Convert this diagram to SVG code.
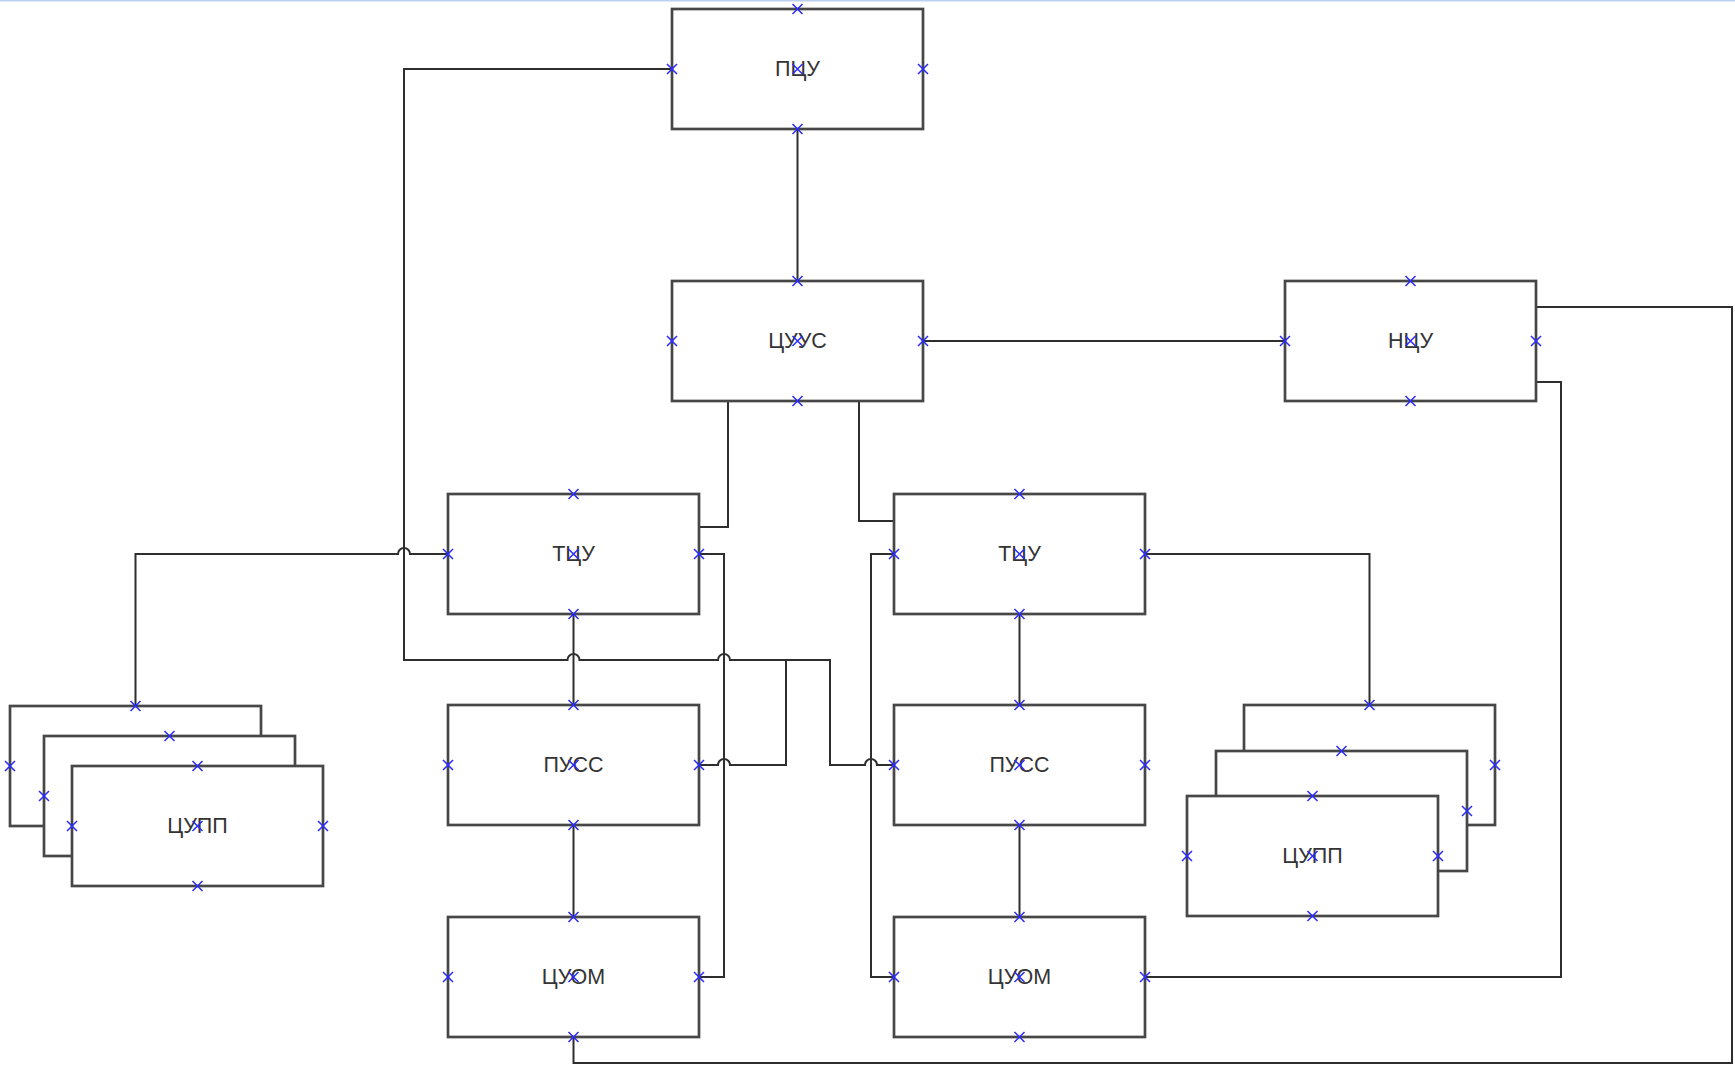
<svg xmlns="http://www.w3.org/2000/svg" width="1735" height="1066" viewBox="0 0 1735 1066">
<defs>
<style>
.box{fill:#fff;stroke:#474747;stroke-width:2.7}
.lbl{font-family:"Liberation Sans",Arial,sans-serif;font-size:21.5px;fill:#333;text-anchor:middle}
.con{fill:none;stroke:#2e2e2e;stroke-width:2}
.pt{stroke:#2a2aff;stroke-width:1.5;fill:none}
</style>
<path id="x" d="M-5,-5 L5,5 M-5,5 L5,-5"/>
</defs>
<rect x="0" y="0" width="1735" height="1066" fill="#fff"/>
<line x1="0" y1="0.5" x2="1735" y2="0.5" stroke="#bcd0f2" stroke-width="2"/>

<g id="connectors" class="con">
<path d="M797.5,129 V281"/>
<path d="M923,341 H1285"/>
<path d="M728,401 V527 H699"/>
<path d="M859,401 V521 H894"/>
<path d="M672,69 H404 V660 H567.5 a6,6 0 0 1 12,0 H718 a6,6 0 0 1 12,0 H830 V765 H865 a6,6 0 0 1 12,0 H894"/>
<path d="M699,765 H718 a6,6 0 0 1 12,0 H786 V660"/>
<path d="M448,554 H410 a6,6 0 0 0 -12,0 H135.5 V706"/>
<path d="M573.5,614 V705"/>
<path d="M573.5,825 V917"/>
<path d="M699,554 H724 V977 H699"/>
<path d="M894,554 H871 V977 H894"/>
<path d="M1019.5,614 V705"/>
<path d="M1019.5,825 V917"/>
<path d="M1145,554 H1369.5 V705"/>
<path d="M1536,307 H1732 V1063 H573.5 V1037"/>
<path d="M1536,382 H1561 V977 H1145"/>
</g>

<g id="n-pcu">
<rect class="box" x="672" y="9" width="251" height="120"/>
<text class="lbl" x="797.5" y="76">ПЦУ</text>
<g class="pt"><use href="#x" x="797.5" y="9"/><use href="#x" x="797.5" y="129"/><use href="#x" x="672" y="69"/><use href="#x" x="923" y="69"/><use href="#x" x="797.5" y="69"/></g>
</g>

<g id="n-cuus">
<rect class="box" x="672" y="281" width="251" height="120"/>
<text class="lbl" x="797.5" y="348">ЦУУС</text>
<g class="pt"><use href="#x" x="797.5" y="281"/><use href="#x" x="797.5" y="401"/><use href="#x" x="672" y="341"/><use href="#x" x="923" y="341"/><use href="#x" x="797.5" y="341"/></g>
</g>

<g id="n-ncu">
<rect class="box" x="1285" y="281" width="251" height="120"/>
<text class="lbl" x="1410.5" y="348">НЦУ</text>
<g class="pt"><use href="#x" x="1410.5" y="281"/><use href="#x" x="1410.5" y="401"/><use href="#x" x="1285" y="341"/><use href="#x" x="1536" y="341"/><use href="#x" x="1410.5" y="341"/></g>
</g>

<g id="n-tcu-l">
<rect class="box" x="448" y="494" width="251" height="120"/>
<text class="lbl" x="573.5" y="561">ТЦУ</text>
<g class="pt"><use href="#x" x="573.5" y="494"/><use href="#x" x="573.5" y="614"/><use href="#x" x="448" y="554"/><use href="#x" x="699" y="554"/><use href="#x" x="573.5" y="554"/></g>
</g>

<g id="n-tcu-r">
<rect class="box" x="894" y="494" width="251" height="120"/>
<text class="lbl" x="1019.5" y="561">ТЦУ</text>
<g class="pt"><use href="#x" x="1019.5" y="494"/><use href="#x" x="1019.5" y="614"/><use href="#x" x="894" y="554"/><use href="#x" x="1145" y="554"/><use href="#x" x="1019.5" y="554"/></g>
</g>

<g id="n-puss-l">
<rect class="box" x="448" y="705" width="251" height="120"/>
<text class="lbl" x="573.5" y="772">ПУСС</text>
<g class="pt"><use href="#x" x="573.5" y="705"/><use href="#x" x="573.5" y="825"/><use href="#x" x="448" y="765"/><use href="#x" x="699" y="765"/><use href="#x" x="573.5" y="765"/></g>
</g>

<g id="n-puss-r">
<rect class="box" x="894" y="705" width="251" height="120"/>
<text class="lbl" x="1019.5" y="772">ПУСС</text>
<g class="pt"><use href="#x" x="1019.5" y="705"/><use href="#x" x="1019.5" y="825"/><use href="#x" x="894" y="765"/><use href="#x" x="1145" y="765"/><use href="#x" x="1019.5" y="765"/></g>
</g>

<g id="n-cuom-l">
<rect class="box" x="448" y="917" width="251" height="120"/>
<text class="lbl" x="573.5" y="984">ЦУОМ</text>
<g class="pt"><use href="#x" x="573.5" y="917"/><use href="#x" x="573.5" y="1037"/><use href="#x" x="448" y="977"/><use href="#x" x="699" y="977"/><use href="#x" x="573.5" y="977"/></g>
</g>

<g id="n-cuom-r">
<rect class="box" x="894" y="917" width="251" height="120"/>
<text class="lbl" x="1019.5" y="984">ЦУОМ</text>
<g class="pt"><use href="#x" x="1019.5" y="917"/><use href="#x" x="1019.5" y="1037"/><use href="#x" x="894" y="977"/><use href="#x" x="1145" y="977"/><use href="#x" x="1019.5" y="977"/></g>
</g>

<g id="n-cupp-l">
<g id="n-cupp-l-back">
<rect class="box" x="10" y="706" width="251" height="120"/>
<g class="pt"><use href="#x" x="135.5" y="706"/><use href="#x" x="10" y="766"/></g>
</g>
<g id="n-cupp-l-mid">
<rect class="box" x="44" y="736" width="251" height="120"/>
<g class="pt"><use href="#x" x="169.5" y="736"/><use href="#x" x="44" y="796"/></g>
</g>
<g id="n-cupp-l-front">
<rect class="box" x="72" y="766" width="251" height="120"/>
<text class="lbl" x="197.5" y="833">ЦУПП</text>
<g class="pt"><use href="#x" x="197.5" y="766"/><use href="#x" x="197.5" y="886"/><use href="#x" x="72" y="826"/><use href="#x" x="323" y="826"/><use href="#x" x="197.5" y="826"/></g>
</g>
</g>

<g id="n-cupp-r">
<g id="n-cupp-r-back">
<rect class="box" x="1244" y="705" width="251" height="120"/>
<g class="pt"><use href="#x" x="1369.5" y="705"/><use href="#x" x="1495" y="765"/></g>
</g>
<g id="n-cupp-r-mid">
<rect class="box" x="1216" y="751" width="251" height="120"/>
<g class="pt"><use href="#x" x="1341.5" y="751"/><use href="#x" x="1467" y="811"/></g>
</g>
<g id="n-cupp-r-front">
<rect class="box" x="1187" y="796" width="251" height="120"/>
<text class="lbl" x="1312.5" y="863">ЦУПП</text>
<g class="pt"><use href="#x" x="1312.5" y="796"/><use href="#x" x="1312.5" y="916"/><use href="#x" x="1187" y="856"/><use href="#x" x="1438" y="856"/><use href="#x" x="1312.5" y="856"/></g>
</g>
</g>
</svg>
